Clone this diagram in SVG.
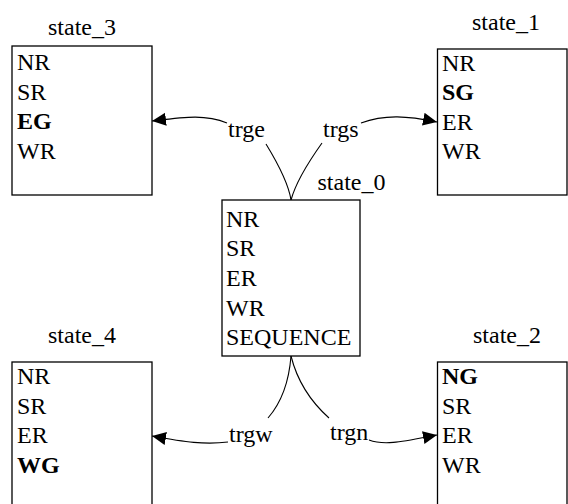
<svg xmlns="http://www.w3.org/2000/svg" width="568" height="504" viewBox="0 0 568 504" font-family="Liberation Serif, Times New Roman, serif" font-size="24">
<style>
.b{font-weight:bold}
.lbl{text-anchor:middle}
.box{fill:#fff;stroke:#000;stroke-width:1.3}
.edge{fill:none;stroke:#000;stroke-width:1.1}
</style>
<defs>
<marker id="arr" markerUnits="userSpaceOnUse" markerWidth="15" markerHeight="14" refX="14" refY="6.5" orient="auto">
<path d="M0,0 L14,6.5 L0,13 z" fill="#000"/>
</marker>
</defs>
<rect width="568" height="504" fill="#fff"/>
<g id="connectors">
<path class="edge" d="M266,144 Q288,180 291,200"/>
<path class="edge" d="M322,143 Q297,178 291,200"/>
<path class="edge" d="M227,123 C205,114 185,117 152,121" marker-end="url(#arr)"/>
<path class="edge" d="M361,123 C385,114 408,116 437,122" marker-end="url(#arr)"/>
<path class="edge" d="M291,356 Q288,395 268,418"/>
<path class="edge" d="M291,356 Q300,392 329,418"/>
<path class="edge" d="M228,442 C205,445 185,442 152,436" marker-end="url(#arr)"/>
<path class="edge" d="M369,440 C385,446 405,441 437,435" marker-end="url(#arr)"/>
<text x="228" y="137">trge</text>
<text x="323" y="137">trgs</text>
<text x="229" y="442">trgw</text>
<text x="330" y="440">trgn</text>
</g>
<g id="state_3">
<text class="lbl" x="82" y="35">state_3</text>
<rect class="box" x="12" y="46" width="140" height="149"/>
<text x="17" y="70">NR</text>
<text x="17" y="99.5">SR</text>
<text class="b" x="17" y="129">EG</text>
<text x="17" y="158.5">WR</text>
</g>
<g id="state_1">
<text class="lbl" x="506" y="30">state_1</text>
<rect class="box" x="437.5" y="49" width="129.5" height="146"/>
<text x="442" y="71">NR</text>
<text class="b" x="442" y="100">SG</text>
<text x="442" y="129.5">ER</text>
<text x="442" y="158.5">WR</text>
</g>
<g id="state_0">
<text class="lbl" x="351.5" y="190">state_0</text>
<rect class="box" x="222" y="200" width="138" height="156"/>
<text x="226" y="226.5">NR</text>
<text x="226" y="256">SR</text>
<text x="226" y="286">ER</text>
<text x="226" y="315.5">WR</text>
<text x="226" y="345">SEQUENCE</text>
</g>
<g id="state_4">
<text class="lbl" x="82" y="343">state_4</text>
<rect class="box" x="12" y="362" width="140" height="150"/>
<text x="17" y="384">NR</text>
<text x="17" y="413.5">SR</text>
<text x="17" y="443">ER</text>
<text class="b" x="17" y="472.5">WG</text>
</g>
<g id="state_2">
<text class="lbl" x="507" y="343">state_2</text>
<rect class="box" x="437.5" y="362" width="129.5" height="150"/>
<text class="b" x="442" y="384">NG</text>
<text x="442" y="413.5">SR</text>
<text x="442" y="443">ER</text>
<text x="442" y="472.5">WR</text>
</g>
</svg>
